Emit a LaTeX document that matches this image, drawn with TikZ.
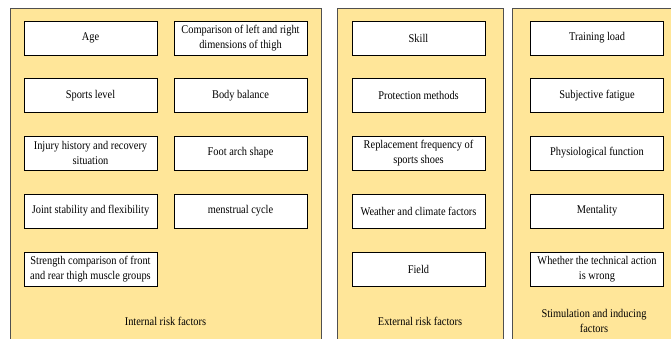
\documentclass[tikz,border=0pt]{standalone}
\usepackage{fontspec}
\setmainfont{Liberation Serif}[FakeStretch=0.88]
\definecolor{panelfill}{HTML}{FFE699}
\definecolor{panelline}{HTML}{505050}
\tikzset{
  panel/.style={draw=panelline, fill=panelfill, line width=1pt},
  factor/.style={draw=black, fill=white, line width=0.9pt, minimum width=133pt, minimum height=34pt,
    align=center, inner sep=1pt, font=\fontsize{11.8}{15}\selectfont},
  caption/.style={align=center, font=\fontsize{11.8}{15.5}\selectfont}
}
\begin{document}
\begin{tikzpicture}[x=1pt, y=-1pt]
			\useasboundingbox (0,0) rectangle (671,339);
			\clip (0,0) rectangle (671,339);

			% Background panels
			\draw[panel] (10,9) rectangle (321,350);
			\draw[panel] (337,9) rectangle (503,350);
			\draw[panel] (512,9) rectangle (690,350);

			% Internal risk factors
			\node[factor] (age) at (90.5, 38) {Age};
			\node[factor] (thigh) at (240.5, 38) {Comparison of left and right\\dimensions of thigh};
			\node[factor] (level) at (90.5, 95.5) {Sports level};
			\node[factor] (balance) at (240.5, 95.5) {Body balance};
			\node[factor] (injury) at (90.5, 153) {Injury history and recovery\\situation};
			\node[factor] (arch) at (240.5, 153) {Foot arch shape};
			\node[factor] (joint) at (90.5, 211) {Joint stability and flexibility};
			\node[factor] (cycle) at (240.5, 211) {menstrual cycle};
			\node[factor] (strength) at (90.5, 269) {Strength comparison of front\\and rear thigh muscle groups};
			\node[caption] (internal) at (165.5, 321) {Internal risk factors};

			% External risk factors
			\node[factor] (skill) at (418.5, 38) {Skill};
			\node[factor] (protect) at (418.5, 95.5) {Protection methods};
			\node[factor] (shoes) at (418.5, 153) {Replacement frequency of\\sports shoes};
			\node[factor] (weather) at (418.5, 211) {Weather and climate factors};
			\node[factor] (field) at (418.5, 269) {Field};
			\node[caption] (external) at (420, 321) {External risk factors};

			% Stimulation and inducing factors
			\node[factor] (load) at (597, 38) {Training load};
			\node[factor] (fatigue) at (597, 95.5) {Subjective fatigue};
			\node[factor] (physio) at (597, 153) {Physiological function};
			\node[factor] (mental) at (597, 211) {Mentality};
			\node[factor] (action) at (597, 269) {Whether the technical action\\is wrong};
			\node[caption] (inducing) at (594, 321) {Stimulation and inducing\\factors};

		\end{tikzpicture}
\end{document}
